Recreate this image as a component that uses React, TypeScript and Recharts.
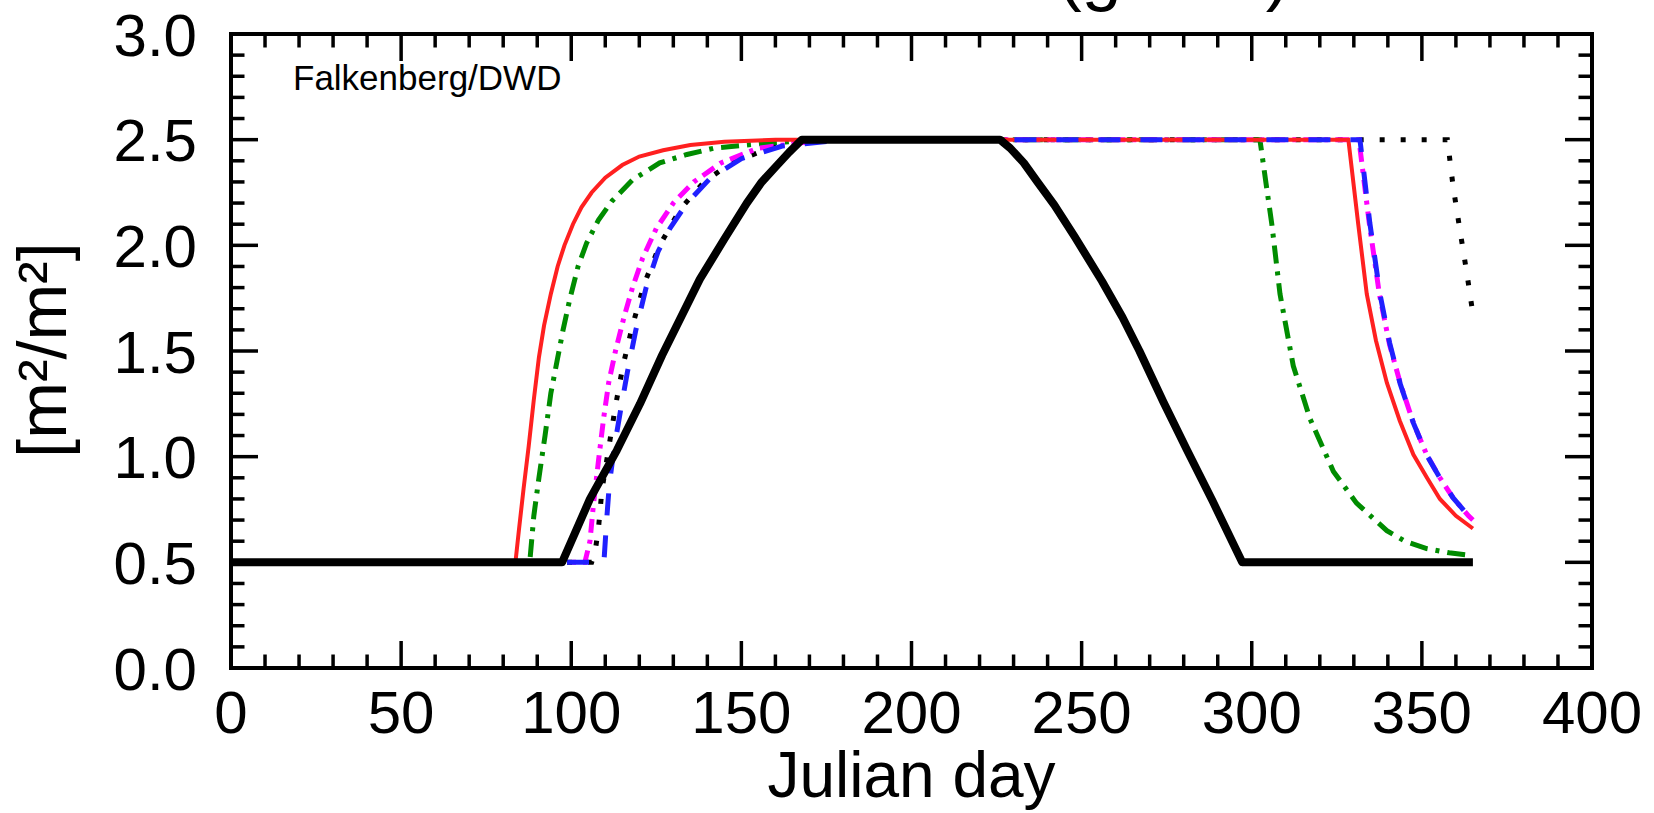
import React from 'react';
import { LineChart, Line, XAxis, YAxis } from 'recharts';

type Pt = [number, number];

// axis ticks (minor every 10 days / 0.1, labels on the majors)
const dayTicks = [0, 10, 20, 30, 40, 50, 60, 70, 80, 90, 100, 110, 120, 130, 140, 150, 160, 170, 180, 190, 200,
  210, 220, 230, 240, 250, 260, 270, 280, 290, 300, 310, 320, 330, 340, 350, 360, 370, 380, 390, 400];
const laiTicks = [0, 0.1, 0.2, 0.3, 0.4, 0.5, 0.6, 0.7, 0.8, 0.9, 1.0, 1.1, 1.2, 1.3, 1.4, 1.5, 1.6, 1.7, 1.8, 1.9,
  2.0, 2.1, 2.2, 2.3, 2.4, 2.5, 2.6, 2.7, 2.8, 2.9, 3.0];

// [julian day, LAI]
const dotted: Pt[] = [[0, 0.5], [106, 0.5], [107, 0.55], [108, 0.66], [109, 0.84], [111, 1.04], [113, 1.24],
  [115.2, 1.43], [118, 1.62], [121.5, 1.82], [126, 2.0], [132, 2.17], [139, 2.3], [147, 2.39], [160, 2.47],
  [175, 2.5], [357.5, 2.5], [359.2, 2.276], [361.2, 2.07], [363.2, 1.87], [365, 1.675]];

const green: Pt[] = [[0, 0.5], [87.8, 0.5], [89, 0.72], [90.5, 0.9], [92.3, 1.1], [94, 1.3], [95.8, 1.45],
  [97.6, 1.6], [99.5, 1.74], [102, 1.9], [104.5, 2.01], [108, 2.12], [112, 2.21], [118, 2.31], [126, 2.39],
  [134, 2.43], [142, 2.46], [158, 2.485], [175, 2.5], [302.4, 2.5], [304.4, 2.27], [305.9, 2.1], [308.3, 1.77],
  [312.2, 1.43], [317.1, 1.18], [324, 0.93], [330.8, 0.78], [339.7, 0.65], [345, 0.6], [351.4, 0.565],
  [358, 0.545], [365, 0.532]];

const magenta: Pt[] = [[0, 0.5], [104, 0.5], [105.5, 0.6], [106.5, 0.77], [108, 0.98], [109.5, 1.18], [111, 1.35],
  [113, 1.5], [115.5, 1.66], [118, 1.8], [121, 1.94], [125, 2.08], [130, 2.2], [136, 2.3], [144, 2.39],
  [155, 2.46], [175, 2.5], [331.5, 2.5], [334.5, 2.11], [337.5, 1.77], [340.5, 1.53], [343.6, 1.35],
  [347.5, 1.16], [351.4, 1.01], [355.3, 0.9], [359.2, 0.805], [363.7, 0.72], [365, 0.7]];

const red: Pt[] = [[0, 0.5], [83.6, 0.5], [84.6, 0.65], [86, 0.85], [87.5, 1.05], [89, 1.27], [90.5, 1.47],
  [92, 1.62], [94, 1.77], [96, 1.9], [98, 2.0], [100.5, 2.1], [103, 2.18], [106, 2.25], [110, 2.32],
  [115, 2.38], [120, 2.42], [127, 2.45], [135, 2.475], [145, 2.49], [160, 2.5], [328.4, 2.5], [331.3, 2.1],
  [333.8, 1.77], [336.5, 1.55], [339.7, 1.35], [343.5, 1.17], [347.5, 1.01], [351.5, 0.9], [355.3, 0.8],
  [360, 0.72], [365, 0.66]];

const blue: Pt[] = [[0, 0.5], [109.6, 0.5], [110.4, 0.7], [111.2, 0.87], [112.6, 1.04], [114.5, 1.22],
  [116.5, 1.4], [119, 1.6], [122, 1.8], [125.5, 1.97], [129, 2.08], [134, 2.2], [141, 2.32], [150, 2.41],
  [162, 2.47], [180, 2.5], [331.8, 2.5], [334.7, 2.106], [337.7, 1.768], [340.5, 1.54], [343.6, 1.346],
  [347.5, 1.16], [351.4, 1.008], [355.3, 0.9], [359.2, 0.805], [363.7, 0.72], [365, 0.7]];

const black: Pt[] = [[0, 0.5], [97.3, 0.5], [105.5, 0.8], [113.4, 1.03], [120.2, 1.25], [126.7, 1.48],
  [137.8, 1.84], [145, 2.03], [151.6, 2.2], [156, 2.3], [160, 2.37], [164, 2.44], [167.8, 2.5], [226, 2.5],
  [229, 2.46], [233, 2.39], [237, 2.3], [242, 2.19], [248, 2.04], [256, 1.83], [262, 1.66], [267, 1.5],
  [274, 1.26], [281, 1.03], [288.5, 0.79], [297.2, 0.5], [365, 0.5]];

const rows = (pts: Pt[]) => pts.map(([day, lai]) => ({ day, lai }));

const FONT = '"Liberation Sans", Arial, Helvetica, sans-serif';
const MAJOR = 27;
const MINOR = 13.5;
const TICK_W = 3.5;
const axisLine = { stroke: '#000', strokeWidth: 4, strokeLinecap: 'square' as const };

const isMajorDay = (v: number) => v % 50 === 0;
const isMajorLai = (v: number) => Math.abs(v * 2 - Math.round(v * 2)) < 1e-6;

function BottomTick({ x, y, payload }: any) {
  const v = payload.value;
  const major = isMajorDay(v);
  return (
    <g>
      <line x1={x} x2={x} y1={y} y2={y - (major ? MAJOR : MINOR)} stroke="#000" strokeWidth={TICK_W} />
      {major && (
        <text x={x} y={y + 65} textAnchor="middle" fontSize={60} fontFamily={FONT} fill="#000">{v}</text>
      )}
    </g>
  );
}

function TopTick({ x, y, payload }: any) {
  const major = isMajorDay(payload.value);
  return <line x1={x} x2={x} y1={y} y2={y + (major ? MAJOR : MINOR)} stroke="#000" strokeWidth={TICK_W} />;
}

function LeftTick({ x, y, payload }: any) {
  const v = payload.value;
  const major = isMajorLai(v);
  return (
    <g>
      <line x1={x} x2={x + (major ? MAJOR : MINOR)} y1={y} y2={y} stroke="#000" strokeWidth={TICK_W} />
      {major && (
        <text x={x - 34} y={y + 21.5} textAnchor="end" fontSize={60} fontFamily={FONT} fill="#000">
          {v.toFixed(1)}
        </text>
      )}
    </g>
  );
}

function RightTick({ x, y, payload }: any) {
  const major = isMajorLai(payload.value);
  return <line x1={x} x2={x - (major ? MAJOR : MINOR)} y1={y} y2={y} stroke="#000" strokeWidth={TICK_W} />;
}

export default function App() {
  return (
    <div style={{ position: 'absolute', left: 0, top: 0, width: 1654, height: 813, background: '#fff' }}>
      <LineChart width={1654} height={813} margin={{ top: 33, right: 61, bottom: 85, left: 131 }}>
        <XAxis xAxisId={0} dataKey="day" type="number" domain={[0, 400]} ticks={dayTicks} interval={0}
          allowDataOverflow height={60} tickSize={0} tickMargin={0} tickLine={false} axisLine={axisLine}
          tick={<BottomTick />} />
        <XAxis xAxisId="top" orientation="top" dataKey="day" type="number" domain={[0, 400]} ticks={dayTicks}
          interval={0} allowDataOverflow height={1} tickSize={0} tickMargin={0} tickLine={false}
          axisLine={axisLine} tick={<TopTick />} />
        <YAxis yAxisId={0} type="number" domain={[0, 3]} ticks={laiTicks} interval={0} allowDataOverflow
          width={100} tickSize={0} tickMargin={0} tickLine={false} axisLine={axisLine} tick={<LeftTick />} />
        <YAxis yAxisId="right" orientation="right" type="number" domain={[0, 3]} ticks={laiTicks} interval={0}
          allowDataOverflow width={1} tickSize={0} tickMargin={0} tickLine={false} axisLine={axisLine}
          tick={<RightTick />} />

        <Line data={rows(dotted)} dataKey="lai" type="linear" stroke="#000" strokeWidth={5}
          strokeDasharray="5 16" dot={false} isAnimationActive={false} />
        <Line data={rows(green)} dataKey="lai" type="linear" stroke="#008c00" strokeWidth={5}
          strokeDasharray="18 8 4 8" dot={false} isAnimationActive={false} />
        <Line data={rows(magenta)} dataKey="lai" type="linear" stroke="#ff00ff" strokeWidth={5}
          strokeDasharray="14 7 4 7" dot={false} isAnimationActive={false} />
        <Line data={rows(red)} dataKey="lai" type="linear" stroke="#ff2020" strokeWidth={4}
          dot={false} isAnimationActive={false} />
        <Line data={rows(blue)} dataKey="lai" type="linear" stroke="#2020ff" strokeWidth={5}
          strokeDasharray="22 20" dot={false} isAnimationActive={false} />
        <Line data={rows(black)} dataKey="lai" type="linear" stroke="#000" strokeWidth={8}
          strokeLinejoin="round" dot={false} isAnimationActive={false} />
      </LineChart>

      <svg width={1654} height={813} style={{ position: 'absolute', left: 0, top: 0, pointerEvents: 'none' }}>
        <text x={911.5} y={-3} textAnchor="middle" fontSize={72} fontFamily={FONT} fill="#000">
          Leaf Area Index (green)
        </text>
        <text x={293} y={90} fontSize={35} fontFamily={FONT} fill="#000">Falkenberg/DWD</text>
        <text x={911.5} y={797} textAnchor="middle" fontSize={64} fontFamily={FONT} fill="#000">Julian day</text>
        <text transform="translate(66 350) rotate(-90)" textAnchor="middle" fontSize={68} fontFamily={FONT}
          fill="#000">[m²/m²]</text>
      </svg>
    </div>
  );
}
